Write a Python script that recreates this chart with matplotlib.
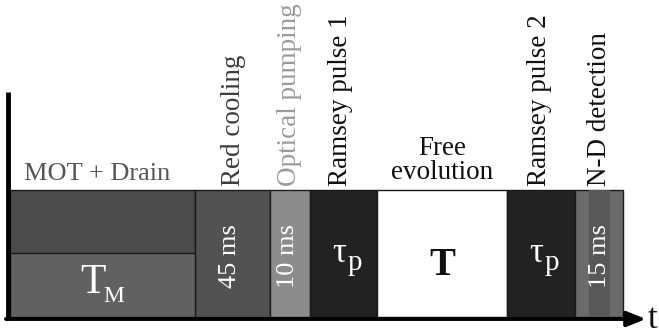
import matplotlib
matplotlib.use("Agg")
import matplotlib.pyplot as plt
from matplotlib.patches import Rectangle

# Sequence segments (time-axis units, schematic)
names = ["MOT + Drain", "Red cooling", "Optical pumping", "Ramsey pulse 1",
         "Free\nevolution", "Ramsey pulse 2", "N-D detection"]
starts = [10, 195, 270, 310, 377, 507, 575]
ends = [195, 270, 310, 377, 507, 575, 623]
durations = ["T_M", "45 ms", "10 ms", "tau_p", "T", "tau_p", "15 ms"]

fills = ["#4b4b4b", "#525252", "#8c8c8c", "#222222", "#ffffff", "#222222", "#6a6a6a"]
label_colors = ["#555555", "#3c3c3c", "#9a9a9a", "#111111", "#111111", "#111111", "#111111"]
label_dx = [0, 1, 0, -3, 0, -1, 1]

plt.rcParams["font.family"] = ["Liberation Serif", "DejaVu Serif"]

fig = plt.figure(figsize=(6.59, 3.34), dpi=100)
ax = fig.add_axes([0, 0, 1, 1])
ax.set_xlim(0, 659)
ax.set_ylim(0, 334)
ax.axis("off")

y0, y1 = 17, 144
ysplit = 81
for i, (s, e) in enumerate(zip(starts, ends)):
    ax.add_patch(Rectangle((s, y0), e - s, y1 - y0, facecolor=fills[i],
                           edgecolor="#1a1a1a", lw=1.0, zorder=2))
# MOT split (lower part lighter)
ax.add_patch(Rectangle((starts[0], y0), ends[0] - starts[0], ysplit - y0,
                       facecolor="#616161", edgecolor="#1a1a1a", lw=1.0, zorder=3))
# N-D inner stripe
ax.add_patch(Rectangle((589, y0), 21, y1 - y0, facecolor="#585858",
                       edgecolor="none", zorder=3))

# axes
ax.plot([8, 8], [14, 242], color="black", lw=3.5, zorder=5, solid_capstyle="butt")
ax.annotate("", xy=(646, 15), xytext=(6, 15),
            arrowprops=dict(arrowstyle="-|>,head_length=0.75,head_width=0.3",
                            mutation_scale=15, color="black", lw=2.8,
                            shrinkA=0, shrinkB=0), zorder=5)
ax.text(648, 15, "t", fontsize=25, ha="left", va="center", color="#111111")

fs = 19.5
for i, (s, e) in enumerate(zip(starts, ends)):
    cx = (s + e) / 2
    d = durations[i]
    if i == 0:
        ax.text(97, 154, names[i], fontsize=19, ha="center", va="baseline",
                color=label_colors[i])
    elif i == 4:
        ax.text(cx, 149, names[i], fontsize=fs, ha="center", va="bottom",
                color=label_colors[i], linespacing=0.95)
    else:
        ax.text(cx + label_dx[i], 148, names[i], fontsize=fs, ha="center",
                va="bottom", rotation=90, color=label_colors[i])

    if d == "T_M":
        ax.text(93, 41, "T", fontsize=30, ha="center", va="baseline",
                color="white", zorder=6)
        ax.text(103, 32, "M", fontsize=17, ha="left", va="baseline",
                color="white", zorder=6)
    elif d == "tau_p":
        ax.text(s + 22, 72, "τ", fontsize=25, ha="left", va="baseline",
                color="white", zorder=6)
        ax.text(s + 38, 64, "p", fontsize=21, ha="left", va="baseline",
                color="white", zorder=6)
    elif d == "T":
        ax.text(cx, 59, "T", fontsize=28, ha="center", va="baseline",
                color="#111111", zorder=6, fontweight="bold")
    else:
        ax.text(cx - 2 if i < 3 else cx + 1, 78, d, fontsize=19, ha="center",
                va="center", rotation=90, color="white", zorder=6)

fig.savefig("out.png", dpi=100)
